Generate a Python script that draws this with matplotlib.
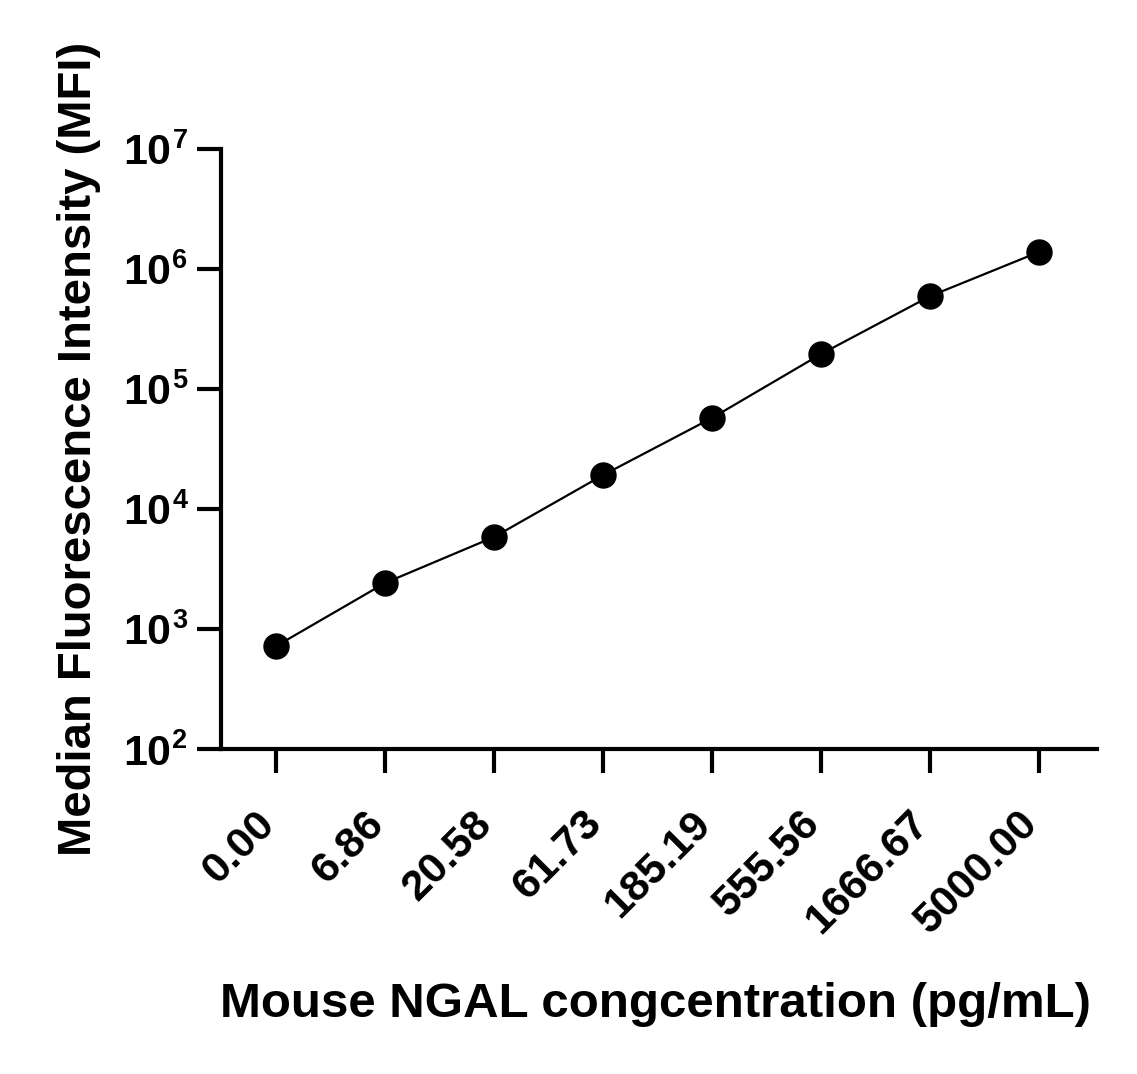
import numpy as np
import matplotlib
matplotlib.use("Agg")
import matplotlib.pyplot as plt
from matplotlib.ticker import NullLocator

plt.rcParams['font.family'] = ['Liberation Sans', 'DejaVu Sans']
plt.rcParams['font.weight'] = 'bold'

# Data
concLabels = ["0.00", "6.86", "20.58", "61.73", "185.19", "555.56", "1666.67", "5000.00"]
mfiValues = [720, 2420, 5850, 19200, 57500, 196000, 595000, 1390000]
yExponents = [2, 3, 4, 5, 6, 7]

xPos = np.arange(len(concLabels))
yTicks = [10.0 ** e for e in yExponents]

fig = plt.figure(figsize=(11.37, 10.74), dpi=100)
ax = fig.add_axes([0.1944, 0.3026, 0.7706, 0.5587])

ax.plot(xPos, mfiValues, color="black", lw=1.6, marker="o", ms=18, zorder=3, clip_on=False)

ax.set_yscale("log")
ax.set_ylim(1e2, 1e7)
ax.set_xlim(-0.505, 7.53)

# y ticks: "10" as tick label, exponent drawn as a superscript next to it
ax.set_yticks(yTicks)
ax.yaxis.set_minor_locator(NullLocator())
ax.set_yticklabels(["10"] * len(yTicks), fontsize=31, fontweight="bold")
for e, v in zip(yExponents, yTicks):
    ax.annotate(str(e), xy=(0, v), xycoords=("axes fraction", "data"),
                xytext=(-35, 6), textcoords="offset points",
                ha="left", va="center", fontsize=19.5, fontweight="bold")

ax.set_xticks(xPos)
ax.set_xticklabels(concLabels, rotation=45, ha="right", va="baseline",
                   rotation_mode="anchor", fontsize=31, fontweight="bold")

for side in ["top", "right"]:
    ax.spines[side].set_visible(False)
for side in ["left", "bottom"]:
    ax.spines[side].set_linewidth(3.0)

ax.tick_params(axis="y", which="major", direction="out", length=17, width=3.0, pad=19)
ax.tick_params(axis="x", which="major", direction="out", length=17, width=3.0, pad=38)

ax.set_xlabel("Mouse NGAL congcentration (pg/mL)", fontsize=35.5, fontweight="bold", va="baseline")
ax.xaxis.set_label_coords(0.4954, -0.4460)
ax.set_ylabel("Median Fluorescence Intensity (MFI)", fontsize=34, fontweight="bold", labelpad=16)

fig.savefig("out.png", dpi=100, facecolor="white")
